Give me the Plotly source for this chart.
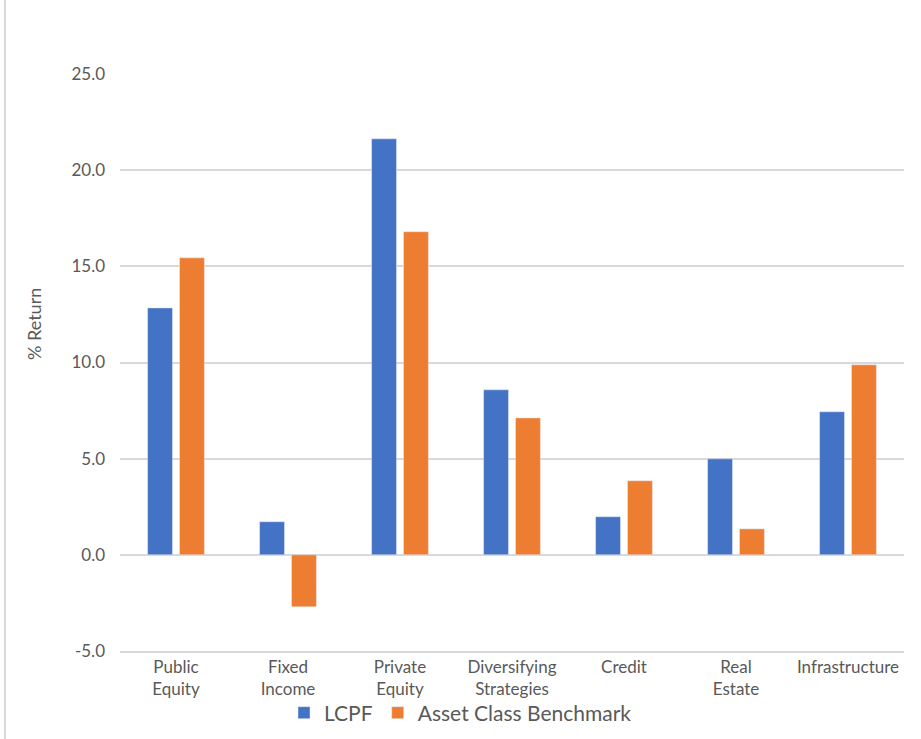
import plotly.graph_objects as go

categories = ["Public<br>Equity", "Fixed<br>Income", "Private<br>Equity", "Diversifying<br>Strategies",
              "Credit", "Real<br>Estate", "Infrastructure"]
lcpf = [12.84, 1.72, 21.63, 8.58, 1.98, 4.99, 7.44]
benchmark = [15.44, -2.70, 16.80, 7.12, 3.85, 1.35, 9.88]
y_ticks = [-5, 0, 5, 10, 15, 20, 25]
y_tick_text = ["-5.0", "0.0", "5.0", "10.0", "15.0", "20.0", "25.0"]

FONT = "Lato, 'Open Sans', sans-serif"
TXT = "#595959"
GRID = "#d9d9d9"

fig = go.Figure()
fig.add_trace(go.Bar(x=categories, y=lcpf, name="LCPF", marker_color="#4472C4"))
fig.add_trace(go.Bar(x=categories, y=benchmark, name="Asset Class Benchmark", marker_color="#ED7D31"))

fig.update_layout(
    width=921, height=739,
    margin=dict(l=120, r=17, t=74, b=88, autoexpand=False),
    paper_bgcolor="white", plot_bgcolor="white",
    barmode="group", bargap=0.43, bargroupgap=0.22,
    font=dict(family=FONT, color=TXT, size=17),
    legend=dict(orientation="h", xref="container", x=0.5, xanchor="center",
                yref="container", y=(739 - 713) / 739, yanchor="middle",
                bgcolor="rgba(0,0,0,0)",
                font=dict(size=21, color=TXT), itemwidth=30, tracegroupgap=0),
    showlegend=True,
    shapes=[dict(type="line", xref="paper", yref="paper",
                 x0=(5 - 120) / 784, x1=(5 - 120) / 784, y0=-0.2, y1=1.2,
                 line=dict(color=GRID, width=2))],
    annotations=[dict(text="% Return", textangle=-90, xref="paper", yref="paper",
                      x=(34 - 120) / 784, y=(651 - 324) / 577, showarrow=False,
                      xanchor="center", yanchor="middle",
                      font=dict(size=18, color=TXT))],
)
fig.update_yaxes(range=[-5, 25], tickvals=y_ticks, ticktext=y_tick_text,
                 showgrid=True, gridcolor=GRID, gridwidth=1.5,
                 zeroline=True, zerolinecolor=GRID, zerolinewidth=2,
                 showline=False, ticks="", ticklabelstandoff=14, automargin=False,
                 tickfont=dict(size=17, color=TXT))
fig.update_xaxes(showgrid=False, showline=True, linecolor=GRID, linewidth=1.5,
                 ticks="", tickangle=0, ticklabelstandoff=0, automargin=False,
                 tickfont=dict(size=17, color=TXT))

fig.write_html("out.html")
